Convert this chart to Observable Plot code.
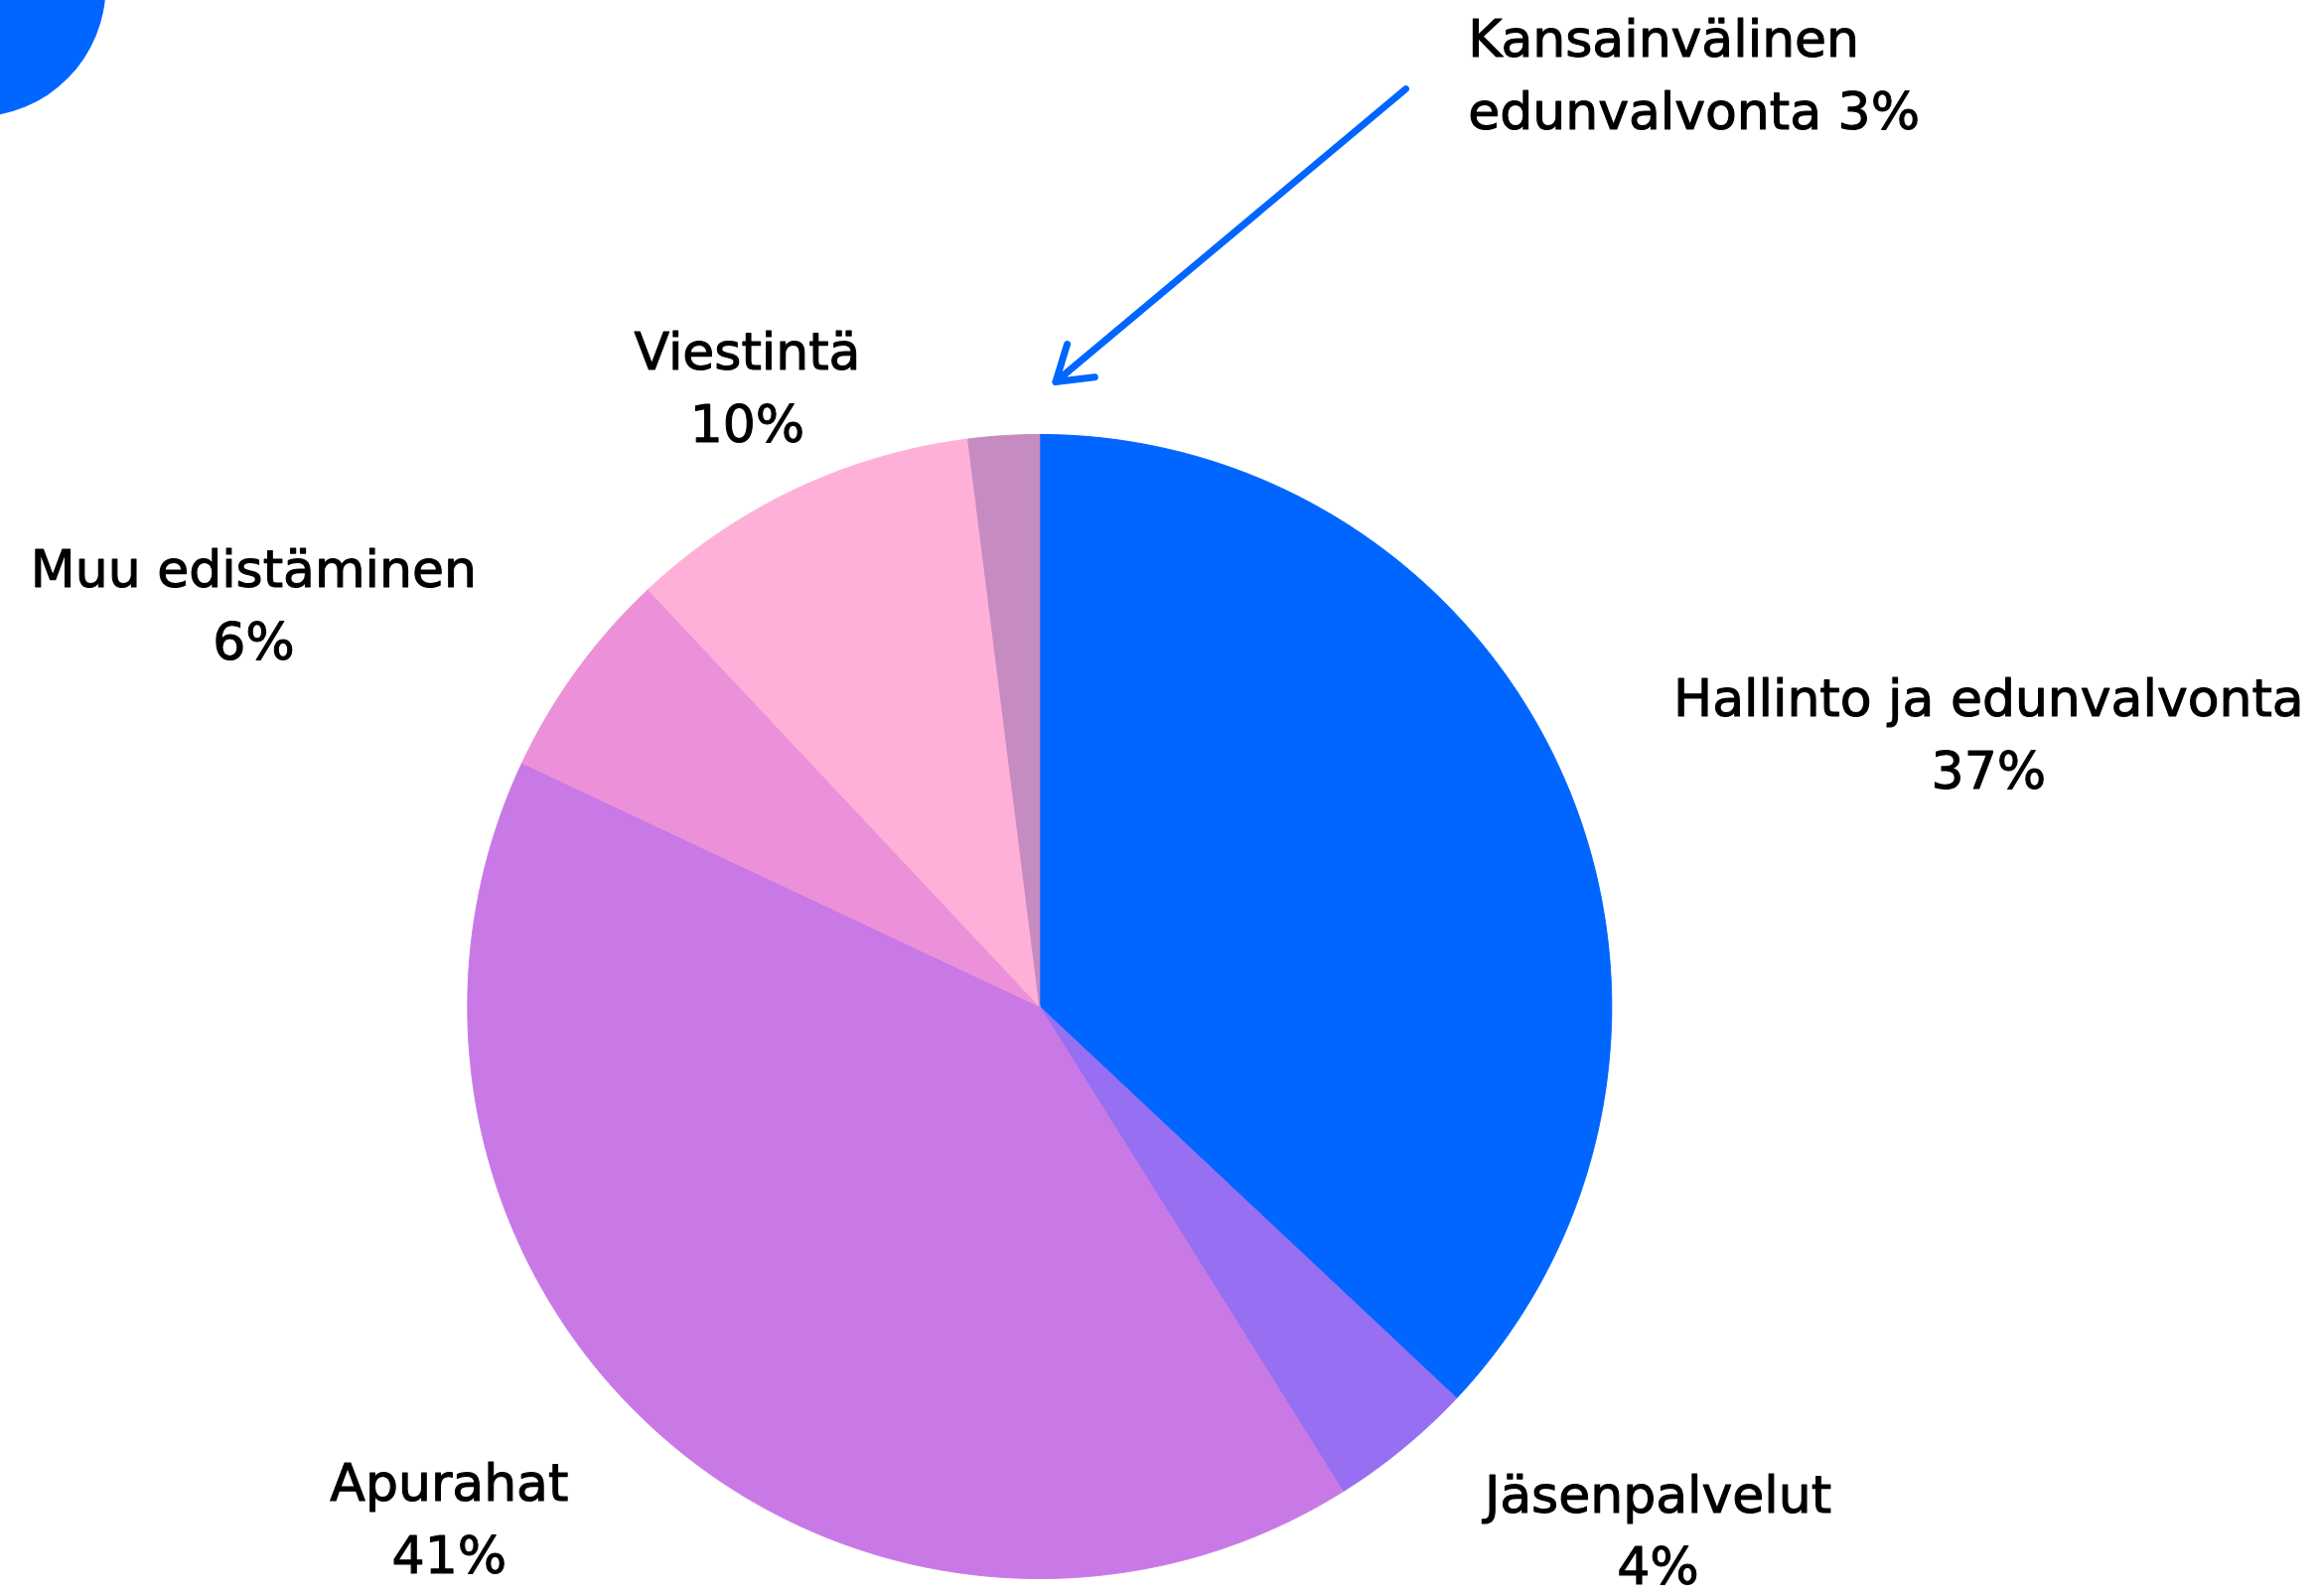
<!DOCTYPE html>
<html>
<head>
<meta charset="utf-8">
<script src="https://cdn.jsdelivr.net/npm/d3@7"></script>
<script src="https://cdn.jsdelivr.net/npm/@observablehq/plot@0.6"></script>
<style>
  html, body { margin: 0; padding: 0; background: #ffffff; }
  #chart svg { display: block; }
</style>
</head>
<body>
<div id="chart"></div>
<script>
// ---- data ----
const categories = [
  "Hallinto ja edunvalvonta",
  "Jäsenpalvelut",
  "Apurahat",
  "Muu edistäminen",
  "Viestintä",
  "Kansainvälinen edunvalvonta"
];
const values = [37.0, 4.1, 40.9, 6.0, 10.0, 2.0];
const percentLabels = ["37%", "4%", "41%", "6%", "10%", "3%"];
const colors = ["#0066ff", "#966ff2", "#c879e6", "#ec90da", "#ffb0d8", "#c68bc0"];

// ---- layout (in pie-radius units, centre = 0,0) ----
const W = 2336, H = 1607;
const cx = 1046.3, cy = 1013, R = 576;
const labelLayout = [
  {u: 1.659, v: 0.597, anchor: "middle"},
  {u: 1.081, v: -0.794, anchor: "middle"},
  {u: -1.032, v: -0.774, anchor: "middle"},
  {u: -1.374, v: 0.823, anchor: "middle"},
  {u: -0.511, v: 1.203, anchor: "middle"},
  {u: 0.749, v: 1.750, anchor: "start"}
];
const arrowLayout = {u1: 0.640, v1: 1.604, u2: 0.028, v2: 1.092};
const decoCircle = {u: -1.860, v: 1.783, r: 131};

// ---- build pie geometry from values ----
const arcs = d3.pie().sort(null).value(d => d)(values);
const slicePoints = [];
arcs.forEach((a, i) => {
  const cat = categories[i];
  slicePoints.push({cat, u: 0, v: 0});
  const n = Math.max(2, Math.ceil((a.endAngle - a.startAngle) / (Math.PI / 900)));
  for (let k = 0; k <= n; k++) {
    const t = a.startAngle + (a.endAngle - a.startAngle) * k / n;
    slicePoints.push({cat, u: Math.sin(t), v: Math.cos(t)});
  }
  slicePoints.push({cat, u: 0, v: 0});
});

const labels = categories.map((name, i) => ({
  cat: name,
  u: labelLayout[i].u,
  v: labelLayout[i].v,
  anchor: labelLayout[i].anchor,
  text: i === 5
    ? name.replace(" ", "\n") + " " + percentLabels[i]
    : name + "\n" + percentLabels[i]
}));

const textOpts = {
  x: "u", y: "v", text: "text",
  lineAnchor: "top", lineHeight: 1.40,
  fontSize: 52, fill: "#000000",
  stroke: "#000000", strokeWidth: 1.1,
  fontFamily: "DejaVu Sans"
};

const chart = Plot.plot({
  width: W,
  height: H,
  margin: 0,
  style: {background: "#ffffff", fontFamily: "DejaVu Sans"},
  x: {domain: [-cx / R, (W - cx) / R], axis: null},
  y: {domain: [-(H - cy) / R, cy / R], axis: null},
  color: {domain: categories, range: colors},
  marks: [
    Plot.dot([decoCircle], {x: "u", y: "v", r: decoCircle.r, fill: "#0066ff", stroke: "none"}),
    Plot.line(slicePoints, {
      x: "u", y: "v", z: "cat", fill: "cat", stroke: "cat",
      strokeWidth: 1, curve: "linear"
    }),
    Plot.arrow([arrowLayout], {
      x1: "u1", y1: "v1", x2: "u2", y2: "v2",
      stroke: "#0066ff", strokeWidth: 7, headLength: 8.5, headAngle: 66,
      strokeLinecap: "round", strokeLinejoin: "round"
    }),
    Plot.text(labels.filter(d => d.anchor === "middle"), {...textOpts, textAnchor: "middle"}),
    Plot.text(labels.filter(d => d.anchor === "start"), {...textOpts, textAnchor: "start"})
  ]
});
document.getElementById("chart").appendChild(chart);
</script>
</body>
</html>
